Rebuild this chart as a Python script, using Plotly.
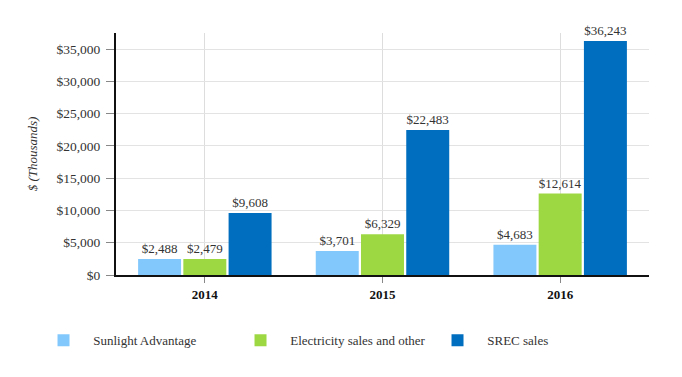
import plotly.graph_objects as go

years = ["2014", "2015", "2016"]
sunlight = [2488, 3701, 4683]
electricity = [2479, 6329, 12614]
srec = [9608, 22483, 36243]
series_names = ["Sunlight Advantage", "Electricity sales and other", "SREC sales"]
colors = ["#83C8FC", "#9DD843", "#006EBF"]
ytick_vals = [0, 5000, 10000, 15000, 20000, 25000, 30000, 35000]
ytick_text = ["$" + format(v, ",") for v in ytick_vals]

fig = go.Figure()
for name, vals, col in zip(series_names, [sunlight, electricity, srec], colors):
    fig.add_trace(go.Bar(
        x=years, y=vals, name="\u00a0\u00a0\u00a0" + name,
        marker=dict(color=col, line=dict(width=0)),
        text=["$" + format(v, ",") for v in vals], textposition="outside",
        texttemplate="%{text}",
        textfont=dict(family="Liberation Serif", size=13, color="#333333"),
        constraintext="none", cliponaxis=False,
    ))

fig.update_layout(
    width=674, height=369,
    margin=dict(l=108, r=33, t=25, b=102),
    paper_bgcolor="white", plot_bgcolor="white",
    barmode="group", bargap=0.236, bargroupgap=0.05,
    font=dict(family="Liberation Serif", size=13, color="#333333"),
    showlegend=True,
    legend=dict(orientation="h", x=-0.136, xanchor="left", y=-0.27, yanchor="middle",
                entrywidth=152, entrywidthmode="pixels",
                font=dict(family="Liberation Serif", size=13, color="#333333"),
                traceorder="normal"),
    xaxis=dict(
        range=[-0.5, 2.5], showgrid=True, gridcolor="#DDDDDD", gridwidth=1,
        showline=True, linecolor="#111111", linewidth=2,
        ticks="outside", ticklen=6, tickcolor="#888888",
        tickfont=dict(family="Liberation Serif", size=13, color="#111111", weight="bold"),
        zeroline=False,
    ),
    yaxis=dict(
        range=[0, 37500], tickmode="array", tickvals=ytick_vals, ticktext=ytick_text,
        showgrid=True, gridcolor="#E3E3E3", gridwidth=1,
        showline=True, linecolor="#111111", linewidth=2,
        ticks="outside", ticklen=8, tickcolor="#888888", ticklabelstandoff=3,
        tickfont=dict(family="Liberation Serif", size=13.5, color="#333333"),
        zeroline=False,
        title=dict(text="<i>$ (Thousands)</i>", standoff=16,
                   font=dict(family="Liberation Serif", size=13, color="#333333")),
    ),
)

fig.write_html("out.html")
